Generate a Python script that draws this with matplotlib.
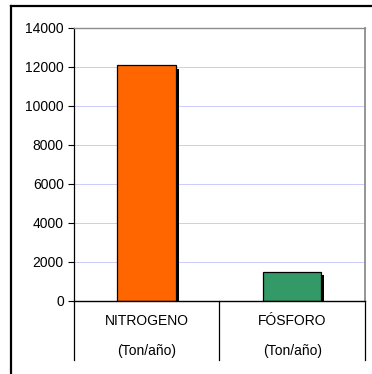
import matplotlib
matplotlib.use("Agg")
import matplotlib.pyplot as plt
import matplotlib.patheffects as pe
from matplotlib.lines import Line2D
from matplotlib.transforms import blended_transform_factory

plt.rcParams['font.family'] = ['Liberation Sans', 'DejaVu Sans']

categories = ["NITROGENO", "FÓSFORO"]
units = ["(Ton/año)", "(Ton/año)"]
values = [12060, 1470]
colors = ["#FF6600", "#339966"]
yticks = [0, 2000, 4000, 6000, 8000, 10000, 12000, 14000]

W, H = 372, 374
fig = plt.figure(figsize=(W / 100, H / 100), dpi=100)
fig.patch.set_facecolor("white")

# outer chart frame (top and left edges visible)
fig.add_artist(Line2D([11 / W, 1.0], [1 - 5.5 / H, 1 - 5.5 / H], color="black", lw=1.6,
                      transform=fig.transFigure))
fig.add_artist(Line2D([11 / W, 11 / W], [0.0, 1 - 5.5 / H], color="black", lw=1.6,
                      transform=fig.transFigure))

x0, x1, ytop, yzero = 73.5, 365.0, 27.5, 300.5
ax = fig.add_axes([x0 / W, 1 - yzero / H, (x1 - x0) / W, (yzero - ytop) / H])

x = list(range(len(categories)))
bars = ax.bar(x, values, width=0.4, color=colors, edgecolor="black", linewidth=0.9, zorder=3)
for b in bars:
    b.set_path_effects([pe.SimplePatchShadow(offset=(2.3, -2.3), shadow_rgbFace="black", alpha=1.0),
                        pe.Normal()])

ax.set_xlim(-0.5, 1.5)
ax.set_ylim(0, 14000)
ax.set_yticks(yticks)
ax.set_yticklabels([str(v) for v in yticks], fontsize=10)
ax.tick_params(axis="y", direction="out", length=4, width=0.8, pad=3, colors="black")
ax.set_xticks([])

for yv in yticks[1:-1]:
    ax.axhline(yv, color="#CCCCFF", lw=0.72, zorder=1, antialiased=False)

ax.spines["top"].set_color("#8C8C8C")
ax.spines["right"].set_color("#8C8C8C")
ax.spines["top"].set_linewidth(1.0)
ax.spines["right"].set_linewidth(1.3)
ax.spines["left"].set_color("black")
ax.spines["bottom"].set_color("black")
ax.spines["left"].set_linewidth(0.9)
ax.spines["bottom"].set_linewidth(1.0)
ax.spines["bottom"].set_zorder(5)

# category divider lines under the axis
hgt = yzero - ytop
dy = -(360 - yzero) / hgt
trans = blended_transform_factory(ax.transData, ax.transAxes)
for xv in [-0.5, 0.5, 1.5]:
    ax.plot([xv, xv], [0, dy], color="black", lw=0.9, transform=trans, clip_on=False)

for i, (c, u) in enumerate(zip(categories, units)):
    ax.text(i, -(321 - yzero) / hgt, c, transform=trans, ha="center", va="center", fontsize=10)
    ax.text(i, -(351 - yzero) / hgt, u, transform=trans, ha="center", va="center", fontsize=10)

fig.savefig("out.png", dpi=100, facecolor="white")
